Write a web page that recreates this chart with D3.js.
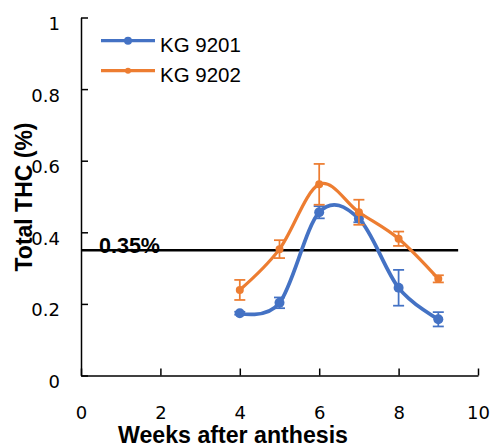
<!DOCTYPE html>
<html>
<head>
<meta charset="utf-8">
<script src="https://cdn.jsdelivr.net/npm/d3@7"></script>
<style>
  body { margin: 0; background: #fff; }
  svg { display: block; }
</style>
</head>
<body>
<div id="chart"></div>
<script>
const weeks = [4, 5, 6, 7, 8, 9]
const kg9201 = [0.174, 0.203, 0.456, 0.438, 0.245, 0.157]
const kg9201Err = [0.004, 0.015, 0.017, 0.01, 0.05, 0.02]
const kg9202 = [0.239, 0.353, 0.534, 0.456, 0.382, 0.27]
const kg9202Err = [0.028, 0.025, 0.057, 0.035, 0.02, 0.01]
const seriesNames = ['KG 9201', 'KG 9202']
const xTicks = [0, 2, 4, 6, 8, 10]
const yTicks = [0, 0.2, 0.4, 0.6, 0.8, 1]
const limitValue = 0.35
const limitEnd = 9.5
const limitLabel = '0.35%'

const width = 490
const height = 444
const tickFont = '"DejaVu Sans", sans-serif'
const textFont = '"Liberation Sans", Arial, sans-serif'

const series = [
  { name: seriesNames[0], values: kg9201, errs: kg9201Err, color: '#4472C4', lw: 3.75, r: 5 },
  { name: seriesNames[1], values: kg9202, errs: kg9202Err, color: '#ED7D31', lw: 3.25, r: 4 }
]

const svg = d3.select('#chart')
  .append('svg')
  .attr('width', width)
  .attr('height', height)

const x = d3.scaleLinear().domain([0, 10]).range([81, 478])
const y = d3.scaleLinear().domain([0, 1]).range([375.5, 17.5])

// axes, ticks pointing inward like excel
const xAxis = svg.append('g')
  .attr('transform', `translate(0, ${y(0)})`)
  .call(d3.axisBottom(x).tickValues(xTicks).tickSizeInner(-7).tickSizeOuter(0).tickPadding(31))

const yAxis = svg.append('g')
  .attr('transform', `translate(${x(0)}, 0)`)
  .call(d3.axisLeft(y).tickValues(yTicks).tickSizeInner(-7).tickSizeOuter(0).tickPadding(21)
    .tickFormat(d3.format('.1~f')))

;[xAxis, yAxis].forEach(a => {
  a.selectAll('path, line').attr('stroke', '#000').attr('stroke-width', 1.5)
  a.selectAll('text')
    .attr('fill', '#000')
    .style('font-family', tickFont)
    .style('font-size', '18px')
})
yAxis.selectAll('text').attr('dy', '0.67em')

// 0.35% limit line
svg.append('line')
  .attr('x1', x(0))
  .attr('x2', x(limitEnd))
  .attr('y1', y(limitValue))
  .attr('y2', y(limitValue))
  .attr('stroke', '#000')
  .attr('stroke-width', 2.5)

svg.append('text')
  .attr('x', 99)
  .attr('y', 253)
  .style('font-family', textFont)
  .style('font-weight', 'bold')
  .style('font-size', '21.5px')
  .text(limitLabel)

const line = d3.line()
  .x(d => x(d.w))
  .y(d => y(d.v))
  .curve(d3.curveCardinal.tension(0))

series.forEach(s => {
  const pts = weeks.map((w, i) => ({ w: w, v: s.values[i], e: s.errs[i] }))
  const g = svg.append('g')

  g.append('path')
    .datum(pts)
    .attr('d', line)
    .attr('fill', 'none')
    .attr('stroke', s.color)
    .attr('stroke-width', s.lw)

  const bars = g.selectAll('g.err').data(pts)
    .enter().append('g')
    .attr('class', 'err')
    .attr('stroke', s.color)
    .attr('stroke-width', 1.75)
  bars.append('line')
    .attr('x1', d => x(d.w)).attr('x2', d => x(d.w))
    .attr('y1', d => y(d.v + d.e)).attr('y2', d => y(d.v - d.e))
  bars.append('line')
    .attr('x1', d => x(d.w) - 5.5).attr('x2', d => x(d.w) + 5.5)
    .attr('y1', d => y(d.v + d.e)).attr('y2', d => y(d.v + d.e))
  bars.append('line')
    .attr('x1', d => x(d.w) - 5.5).attr('x2', d => x(d.w) + 5.5)
    .attr('y1', d => y(d.v - d.e)).attr('y2', d => y(d.v - d.e))

  g.selectAll('circle').data(pts)
    .enter().append('circle')
    .attr('cx', d => x(d.w))
    .attr('cy', d => y(d.v))
    .attr('r', s.r)
    .attr('fill', s.color)
})

// legend
const legend = svg.append('g')
  .attr('transform', 'translate(101, 40.7)')
const items = legend.selectAll('g').data(series)
  .enter().append('g')
  .attr('transform', (d, i) => `translate(0, ${i * 30})`)
items.append('line')
  .attr('x1', 0).attr('x2', 54)
  .attr('stroke', d => d.color)
  .attr('stroke-width', 3.3)
items.append('circle')
  .attr('cx', 27)
  .attr('r', d => d.r - 1)
  .attr('fill', d => d.color)
items.append('text')
  .attr('x', 59)
  .attr('y', 11)
  .style('font-family', textFont)
  .style('font-size', '20.5px')
  .text(d => d.name)

// axis titles
svg.append('text')
  .attr('x', 233)
  .attr('y', 443)
  .attr('text-anchor', 'middle')
  .attr('textLength', 230)
  .attr('lengthAdjust', 'spacingAndGlyphs')
  .style('font-family', textFont)
  .style('font-weight', 'bold')
  .style('font-size', '23px')
  .text('Weeks after anthesis')

svg.append('text')
  .attr('transform', 'translate(32, 197) rotate(-90)')
  .attr('text-anchor', 'middle')
  .attr('textLength', 149)
  .attr('lengthAdjust', 'spacingAndGlyphs')
  .style('font-family', textFont)
  .style('font-weight', 'bold')
  .style('font-size', '23px')
  .text('Total THC (%)')
</script>
</body>
</html>
